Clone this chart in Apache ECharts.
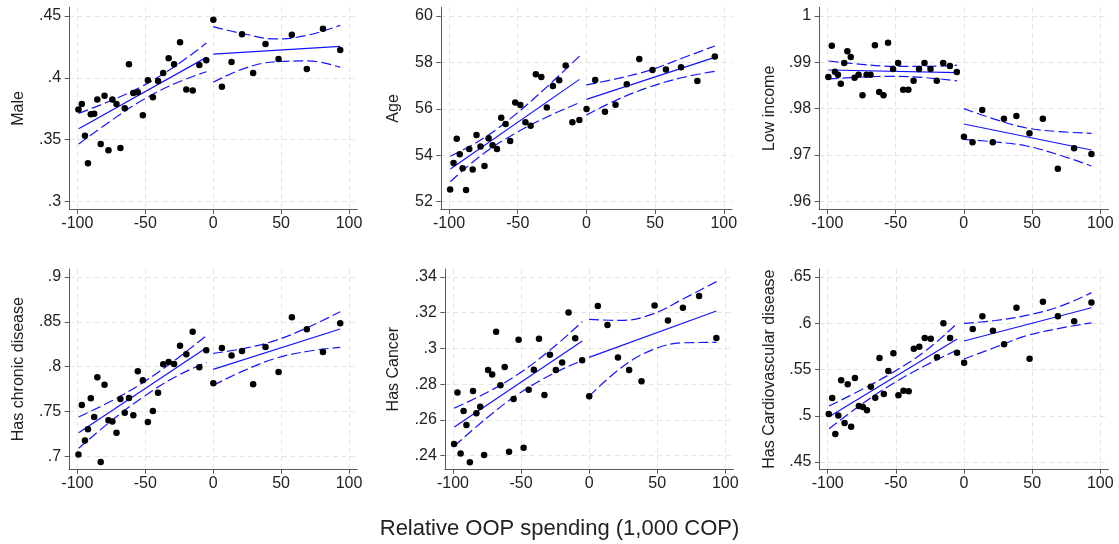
<!DOCTYPE html>
<html><head><meta charset="utf-8">
<script src="https://cdn.jsdelivr.net/npm/echarts@6/dist/echarts.min.js"></script>
<style>html,body{margin:0;padding:0;background:#fff}#c{width:1119px;height:544px}</style>
</head><body><div id="c"></div>
<script>
// bins of relative OOP spending
const xLeft = [-99.2,-96.7,-94.4,-92.2,-90.1,-87.6,-85.3,-82.8,-80.0,-77.1,-74.2,-71.2,-68.3,-65.1,-62.0,-58.8,-55.5,-51.8,-48.1,-44.4,-40.6,-36.8,-32.8,-28.8,-24.4,-19.8,-15.1,-10.2,-5.1];
const xRight = [0.1,6.4,13.5,21.2,29.4,38.5,48.1,57.9,68.9,80.8,93.5];
const fitXLeft = [-99,-5];
const fitXRight = [0,93.5];
const bandXLeft = [-99,-75,-52,-28,-5];
const bandXRight = [0,23,46,70,93.5];
const xTicks = [-100,-50,0,50,100];

// Male
const maleLeft = [.3744,.3788,.3531,.3307,.3704,.3709,.3825,.3464,.3855,.3413,.3825,.3788,.3431,.3753,.4109,.3877,.3882,.3696,.3979,.3842,.3974,.4039,.4157,.4109,.4287,.3906,.3896,.4103,.4141];
const maleRight = [.4470,.3928,.4128,.4352,.4039,.4273,.4152,.4349,.4071,.4397,.4225];
const maleFitL = [.3588,.4165], maleFitR = [.4192,.4254];
const maleUpL = [.3712,.3816,.3934,.4094,.4281], maleLoL = [.3464,.3654,.3820,.3954,.4049];
const maleUpR = [.4414,.4354,.4314,.4346,.4424], maleLoR = [.3963,.4076,.4130,.4136,.4084];
const maleTicks = [.3,.35,.4,.45];

// Age
const ageLeft = [52.53,53.67,54.71,54.04,53.44,52.50,54.27,53.39,54.87,54.38,53.54,54.73,54.43,54.27,55.62,55.35,54.61,56.27,56.17,55.42,55.27,57.49,57.37,56.06,56.98,57.23,57.87,55.42,55.52];
const ageRight = [55.99,57.24,55.88,56.18,57.06,58.15,57.67,57.69,57.79,57.20,58.26];
const ageFitL = [53.41,57.27], ageFitR = [56.41,58.22];
const ageUpL = [53.96,54.73,55.74,56.99,58.27], ageLoL = [52.86,54.07,54.94,55.67,56.27];
const ageUpR = [57.03,57.31,57.66,58.19,58.71], ageLoR = [55.73,56.41,56.94,57.35,57.62];
const ageTicks = [52,54,56,58,60];

// Low income
const lowLeft = [.98683,.99360,.98799,.98734,.98540,.98986,.99237,.99115,.98669,.98734,.98288,.98734,.98734,.99367,.98360,.98288,.99424,.98856,.98986,.98410,.98410,.98604,.98856,.98986,.98856,.98604,.98986,.98921,.98791];
const lowRight = [.97396,.97273,.97971,.97273,.97784,.97842,.97468,.97784,.96705,.97144,.97022];
const lowFitL = [.98835,.98777], lowFitR = [.97669,.97108];
const lowUpL = [.99029,.98957,.98914,.98913,.98935], lowLoL = [.98641,.98683,.98698,.98669,.98600];
const lowUpR = [.98000,.97770,.97583,.97504,.97468], lowLoR = [.97338,.97281,.97194,.97000,.96763];
const lowTicks = [.96,.97,.98,.99,1];

// Has chronic disease
const chrLeft = [.7019,.7572,.7175,.7301,.7647,.7439,.7881,.6937,.7799,.7401,.7387,.7264,.7639,.7487,.7651,.7457,.7948,.7848,.7383,.7506,.7710,.8026,.8052,.8030,.8234,.8138,.8390,.7993,.8182];
const chrRight = [.7814,.8208,.8123,.8175,.7803,.8219,.7941,.8550,.8416,.8164,.8483];
const chrFitL = [.7264,.8212], chrFitR = [.7970,.8420];
const chrUpL = [.7439,.7616,.7820,.8075,.8346], chrLoL = [.7089,.7396,.7656,.7885,.8048];
const chrUpR = [.8148,.8204,.8293,.8440,.8613], chrLoR = [.7792,.7958,.8093,.8172,.8216];
const chrTicks = [.7,.75,.8,.85,.9];

// Has Cancer
const canLeft = [.2465,.2754,.2413,.2650,.2572,.2363,.2762,.2637,.2674,.2404,.2879,.2855,.3094,.2794,.2896,.2422,.2717,.3049,.2445,.2769,.2881,.3055,.2740,.2965,.2879,.2922,.3202,.3057,.2934];
const canRight = [.2732,.3238,.3131,.2950,.2879,.2816,.3240,.3157,.3228,.3294,.3059];
const canFitL = [.2560,.3042], canFitR = [.2950,.3210];
const canUpL = [.2666,.2754,.2857,.2995,.3150], canLoL = [.2454,.2612,.2745,.2853,.2934];
const canUpR = [.3163,.3157,.3191,.3281,.3374], canLoR = [.2732,.2889,.2991,.3032,.3034];
const canTicks = [.24,.26,.28,.3,.32,.34];

// Has Cardiovascular disease
const carLeft = [.5019,.5192,.4803,.5004,.5383,.4922,.5340,.4882,.5408,.5105,.5095,.5059,.5314,.5195,.5624,.5235,.5484,.5675,.5221,.5271,.5264,.5725,.5747,.5841,.5833,.5632,.5999,.5841,.5682];
const carRight = [.5574,.5938,.6075,.5920,.5772,.6168,.5617,.6233,.6075,.6021,.6223];
const carFitL = [.4990,.5830], carFitR = [.5808,.6168];
const carUpL = [.5105,.5283,.5471,.5703,.5999], carLoL = [.4860,.5125,.5349,.5545,.5711];
const carUpR = [.5999,.6030,.6085,.6180,.6331], carLoR = [.5614,.5740,.5866,.5945,.6005];
const carTicks = [.45,.5,.55,.6,.65];

const panels = [
  {name:'Male', ticks:maleTicks, L:maleLeft, R:maleRight, fL:maleFitL, fR:maleFitR, uL:maleUpL, lL:maleLoL, uR:maleUpR, lR:maleLoR,
   min:.29336, max:.45704, grid:{left:69.2, top:7.3, width:288, height:202.2}, gap:43},
  {name:'Age', ticks:ageTicks, L:ageLeft, R:ageRight, fL:ageFitL, fR:ageFitR, uL:ageUpL, lL:ageLoL, uR:ageUpR, lR:ageLoR,
   min:51.664, max:60.375, grid:{left:440.8, top:7.3, width:291.2, height:202.2}, gap:39},
  {name:'Low income', ticks:lowTicks, L:lowLeft, R:lowRight, fL:lowFitL, fR:lowFitR, uL:lowUpL, lL:lowLoL, uR:lowUpR, lR:lowLoR,
   min:.95823, max:1.00188, grid:{left:819.1, top:7.3, width:289.4, height:202.2}, gap:42},
  {name:'Has chronic disease', ticks:chrTicks, L:chrLeft, R:chrRight, fL:chrFitL, fR:chrFitR, uL:chrUpL, lL:chrLoL, uR:chrUpR, lR:chrLoR,
   min:.6855, max:.90892, grid:{left:69.2, top:269, width:288, height:200.3}, gap:43},
  {name:'Has Cancer', ticks:canTicks, L:canLeft, R:canRight, fL:canFitL, fR:canFitR, uL:canUpL, lL:canLoL, uR:canUpR, lR:canLoR,
   min:.23239, max:.34448, grid:{left:444.8, top:269, width:288.6, height:200.3}, gap:43},
  {name:'Has Cardiovascular disease', ticks:carTicks, L:carLeft, R:carRight, fL:carFitL, fR:carFitR, uL:carUpL, lL:carLoL, uR:carUpR, lR:carLoR,
   min:.44211, max:.65865, grid:{left:819.5, top:269, width:289, height:200.3}, gap:41.5}
];

const FONT = '"Liberation Sans", Arial, Helvetica, sans-serif';
const AXC = '#5a5a5a';
const fmt = v => String(+(+v).toFixed(4)).replace(/^0\./,'.').replace(/^-0\./,'-.');
const zip = (xs, ys) => xs.map((x,i)=>[x, ys[i]]);

const grids=[], xAxes=[], yAxes=[], series=[];
panels.forEach((p,i)=>{
  grids.push(Object.assign({containLabel:false}, p.grid));
  const splitLine = {show:true, lineStyle:{color:'#e4e4e4', type:[5,3.5], width:1}};
  xAxes.push({type:'value', gridIndex:i, min:-106, max:106,
    axisLine:{show:true, onZero:false, lineStyle:{color:AXC, width:1}},
    axisTick:{show:true, length:4.5, customValues:xTicks, lineStyle:{color:AXC}},
    axisLabel:{customValues:xTicks, formatter:fmt, fontFamily:FONT, fontSize:16, color:'#222', margin:6},
    splitLine});
  yAxes.push({type:'value', gridIndex:i, min:p.min, max:p.max, name:p.name, nameLocation:'middle', nameGap:p.gap,
    nameTextStyle:{fontFamily:FONT, fontSize:16, color:'#222'},
    axisLine:{show:true, onZero:false, lineStyle:{color:AXC, width:1}},
    axisTick:{show:true, length:4.5, customValues:p.ticks, lineStyle:{color:AXC}},
    axisLabel:{customValues:p.ticks, formatter:fmt, fontFamily:FONT, fontSize:16, color:'#222', margin:8},
    splitLine});
  const base = {xAxisIndex:i, yAxisIndex:i, silent:true, animation:false};
  const solid = {color:'#1414ff', width:1.2, type:'solid'};
  const dash = {color:'#1414ff', width:1.2, type:[10,4]};
  series.push(Object.assign({type:'line', data:zip(fitXLeft,p.fL), showSymbol:false, lineStyle:solid, z:3}, base));
  series.push(Object.assign({type:'line', data:zip(fitXRight,p.fR), showSymbol:false, lineStyle:solid, z:3}, base));
  [[bandXLeft,p.uL],[bandXLeft,p.lL],[bandXRight,p.uR],[bandXRight,p.lR]].forEach(([bx,by])=>{
    series.push(Object.assign({type:'line', data:zip(bx,by), showSymbol:false, smooth:0.4, lineStyle:dash, z:3}, base));
  });
  series.push(Object.assign({type:'scatter', data:zip(xLeft,p.L).concat(zip(xRight,p.R)), symbolSize:6.5,
    itemStyle:{color:'#000', opacity:1}, z:4}, base));
});

const chart = echarts.init(document.getElementById('c'), null, {renderer:'canvas'});
chart.setOption({
  backgroundColor:'#fff',
  animation:false,
  grid:grids, xAxis:xAxes, yAxis:yAxes, series,
  graphic:[{type:'text', left:'center', top:518, style:{text:'Relative OOP spending (1,000 COP)', font:'22px '+FONT, fill:'#222'}}]
});
</script></body></html>
